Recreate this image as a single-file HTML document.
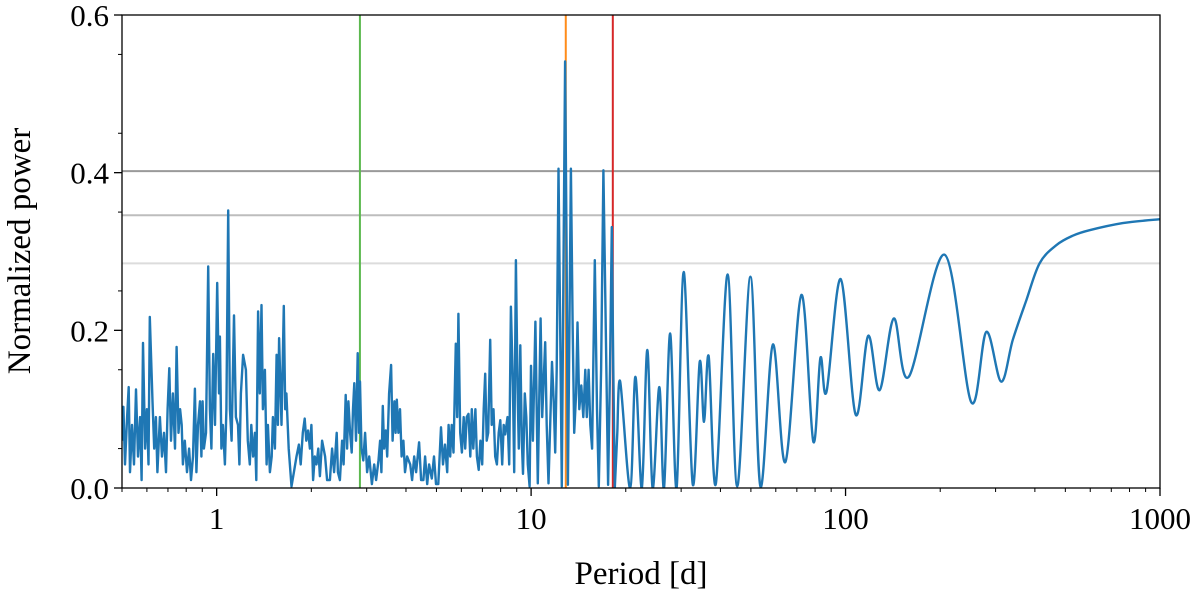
<!DOCTYPE html>
<html><head><meta charset="utf-8">
<style>
html,body{margin:0;padding:0;background:#fff;}
svg{display:block;font-family:"Liberation Serif",serif;}
</style></head>
<body>
<svg id="chart" width="1200" height="594" viewBox="0 0 1200 594" xmlns="http://www.w3.org/2000/svg">
<defs><clipPath id="plotclip"><rect x="122" y="15" width="1038" height="473"/></clipPath></defs>
<g id="hlines"></g>
<g id="vlines"></g>
<g id="series" clip-path="url(#plotclip)"></g>
<rect x="122" y="15" width="1038" height="473" fill="none" stroke="#000" stroke-width="1.3"/>
<g id="axes"></g>
<text x="641" y="584" font-size="33" text-anchor="middle">Period [d]</text>
<text transform="translate(30,251) rotate(-90)" font-size="33" text-anchor="middle">Normalized power</text>
</svg>
<script>
const noisyPeriods=[0.500,0.505,0.511,0.519,0.525,0.530,0.538,0.546,0.554,0.562,0.571,0.577,0.583,0.592,0.600,0.607,0.613,0.625,0.633,0.641,0.648,0.660,0.670,0.680,0.690,0.698,0.707,0.716,0.726,0.737,0.746,0.756,0.765,0.774,0.781,0.792,0.805,0.817,0.829,0.841,0.853,0.862,0.872,0.885,0.894,0.902,0.911,0.925,0.940,0.952,0.962,0.975,0.988,1.004,1.017,1.024,1.035,1.047,1.062,1.074,1.088,1.102,1.116,1.135,1.151,1.169,1.181,1.194,1.214,1.239,1.256,1.275,1.289,1.306,1.323,1.337,1.355,1.372,1.389,1.403,1.424,1.442,1.455,1.477,1.496,1.510,1.532,1.551,1.566,1.580,1.608,1.635,1.652,1.667,1.695,1.730,1.761,1.795,1.826,1.851,1.879,1.906,1.928,1.953,1.979,2.001,2.027,2.051,2.078,2.105,2.129,2.164,2.212,2.245,2.292,2.329,2.363,2.408,2.430,2.465,2.506,2.534,2.572,2.599,2.624,2.656,2.688,2.714,2.739,2.774,2.808,2.836,2.857,2.889,2.927,2.965,3.010,3.056,3.117,3.170,3.214,3.270,3.310,3.341,3.375,3.408,3.450,3.485,3.535,3.588,3.627,3.675,3.708,3.740,3.784,3.830,3.873,3.924,3.973,4.034,4.126,4.185,4.248,4.309,4.405,4.470,4.546,4.602,4.671,4.739,4.833,4.912,4.985,5.069,5.170,5.245,5.324,5.408,5.467,5.528,5.591,5.663,5.763,5.819,5.874,5.948,6.023,6.104,6.172,6.242,6.325,6.405,6.476,6.549,6.648,6.722,6.812,6.900,6.989,7.066,7.145,7.224,7.304,7.413,7.495,7.594,7.689,7.786,7.890,7.978,8.092,8.181,8.272,8.413,8.518,8.624,8.752,8.836,8.947,9.054,9.135,9.237,9.339,9.423,9.547,9.654,9.761,9.891,9.994,10.13,10.32,10.50,10.72,10.85,11.09,11.21,11.36,11.65,11.80,11.93,12.06,12.22,12.37,12.52,12.69,12.83,12.97,13.09,13.24,13.38,13.56,13.71,13.90,14.05,14.23,14.44,14.65,14.87,15.04,15.24,15.43,15.63,15.94,16.20,16.42,16.70,16.98,17.28,17.57,17.82,18.06,18.26,18.46,18.80];
const noisyPower=[.06,.103,.03,.09,.128,.02,.08,.03,.125,.04,.09,.01,.184,.05,.1,.03,.217,.11,.05,.09,.02,.09,.04,.07,.02,.1,.152,.06,.12,.05,.179,.07,.1,.08,.03,.06,.02,.05,.01,.04,.126,.02,.08,.11,.04,.11,.05,.07,.281,.1,.05,.17,.08,.26,.12,.192,.05,.08,.03,.1,.352,.1,.06,.219,.09,.08,.03,.12,.169,.15,.06,.03,.08,.04,.07,.01,.224,.12,.232,.1,.15,.03,.08,.02,.04,.09,.05,.169,.08,.19,.08,.231,.1,.12,.05,.002,.02,.04,.055,.03,.07,.088,.06,.073,.05,.08,.01,.04,.03,.05,.015,.06,.04,.01,.01,.05,.02,.07,.02,.01,.06,.03,.118,.05,.11,.07,.045,.1,.133,.06,.171,.07,.135,.05,.035,.07,.02,.04,.005,.03,.01,.035,.06,.02,.104,.05,.073,.04,.12,.156,.06,.11,.07,.112,.07,.1,.04,.06,.02,.04,.03,.01,.04,.02,.058,.01,.01,.04,.005,.03,.012,.04,.005,.005,.077,.03,.055,.02,.08,.04,.08,.045,.183,.09,.221,.07,.045,.09,.05,.09,.094,.04,.1,.05,.1,.04,.023,.06,.03,.1,.145,.06,.07,.188,.08,.1,.04,.03,.07,.086,.03,.08,.068,.09,.03,.23,.13,.02,.289,.13,.05,.181,.06,.018,.12,.09,.03,.002,.155,.06,.211,.006,.215,.09,.185,.08,.006,.16,.11,.045,.15,.405,.2,.002,.3,.541,.3,.004,.2,.405,.2,.07,.12,.21,.1,.13,.09,.15,.09,.15,.08,.05,.289,.1,.002,.15,.403,.2,.004,.15,.331,.15,0,.07];
const smoothPeriods=[19.20,20.65,21.47,22.50,23.41,24.35,25.57,26.47,27.68,29.01,30.56,32.64,34.38,35.48,36.70,38.68,42.17,45.22,49.83,53.60,58.74,64.37,72.40,78.96,83.17,86.98,96.54,107.7,118.0,128.3,142.4,158.9,206.5,250.9,280.2,312.4,340.4,375.6,414.0,467.9,528.2,597.0,761.7,1000];
const smoothPower=[.135,0,.141,0,.175,0,.128,0,.196,0,.274,.005,.160,.084,.167,.005,.271,.002,.268,.002,.182,.033,.245,.059,.165,.122,.265,.093,.193,.124,.215,.141,.296,.109,.198,.135,.188,.238,.285,.308,.320,.327,.336,.341];
const thresholdLevels=[0.402,0.346,0.285];
const markerPeriods=[2.855,12.89,18.19];
const yTicks=[0,0.2,0.4,0.6];
const yTickLabels=["0.0","0.2","0.4","0.6"];
const xTicks=[1,10,100,1000];
const xTickLabels=["1","10","100","1000"];

const X0=122,X1=1160,Y0=488,Y1=15;
const lmin=Math.log10(0.5),lmax=Math.log10(1000);
function xs(p){return X0+(Math.log10(p)-lmin)/(lmax-lmin)*(X1-X0);}
function ys(v){return Y0-(v/0.6)*(Y0-Y1);}
const NS="http://www.w3.org/2000/svg";
function mk(tag,attrs,parent){const e=document.createElementNS(NS,tag);for(const k in attrs)e.setAttribute(k,attrs[k]);parent.appendChild(e);return e;}

const hl=document.getElementById('hlines');
const hcols=["#9a9a9a","#bdbdbd","#dcdcdc"];
thresholdLevels.forEach((v,i)=>{
  const l=mk('line',{x1:X0,x2:X1,y1:ys(v),y2:ys(v),stroke:hcols[i],'stroke-width':2},hl);
  
  
});
const vl=document.getElementById('vlines');
const vcols=["#5cb84f","#ff8c1a","#d62728"];
markerPeriods.forEach((p,i)=>{
  const l=mk('line',{x1:xs(p),x2:xs(p),y1:Y1,y2:Y0,stroke:vcols[i],'stroke-width':2},vl);
  
  
});

const sg=document.getElementById('series');
let d='';
noisyPeriods.forEach((p,i)=>{d+=(i?'L':'M')+xs(p).toFixed(1)+','+ys(noisyPower[i]).toFixed(1);});
const pts=[[xs(noisyPeriods[noisyPeriods.length-1]),ys(noisyPower[noisyPower.length-1])]];
smoothPeriods.forEach((p,i)=>pts.push([xs(p),ys(smoothPower[i])]));
for(let i=0;i<pts.length-1;i++){
  const p0=pts[Math.max(0,i-1)],p1=pts[i],p2=pts[i+1],p3=pts[Math.min(pts.length-1,i+2)];
  const c1=[p1[0]+(p2[0]-p0[0])/6,p1[1]+(p2[1]-p0[1])/6];
  const c2=[p2[0]-(p3[0]-p1[0])/6,p2[1]-(p3[1]-p1[1])/6];
  d+='C'+c1[0].toFixed(1)+','+c1[1].toFixed(1)+' '+c2[0].toFixed(1)+','+c2[1].toFixed(1)+' '+p2[0].toFixed(1)+','+p2[1].toFixed(1);
}
const path=mk('path',{d:d,fill:'none',stroke:'#1f77b4','stroke-width':2.4,'stroke-linejoin':'round'},sg);



const ax=document.getElementById('axes');
yTicks.forEach((v,i)=>{
  mk('line',{x1:X0-8,x2:X0,y1:ys(v),y2:ys(v),stroke:'#000','stroke-width':1.3},ax);
  const t=mk('text',{x:X0-13,y:ys(v)+11,'font-size':31,'text-anchor':'end'},ax);
  t.textContent=yTickLabels[i];
  
  
});
for(let v=0.05;v<0.6;v+=0.1){mk('line',{x1:X0-4,x2:X0,y1:ys(v),y2:ys(v),stroke:'#000','stroke-width':1},ax);}
xTicks.forEach((v,i)=>{
  mk('line',{x1:xs(v),x2:xs(v),y1:Y0,y2:Y0+8,stroke:'#000','stroke-width':1.3},ax);
  const t=mk('text',{x:xs(v),y:Y0+41,'font-size':31,'text-anchor':'middle'},ax);
  t.textContent=xTickLabels[i];
  
  
});
[0.1,1,10,100].forEach(dec=>{for(let m=2;m<=9;m++){const v=dec*m;if(v<0.5||v>1000)continue;mk('line',{x1:xs(v),x2:xs(v),y1:Y0,y2:Y0+4,stroke:'#000','stroke-width':1},ax);}});
</script>
</body></html>
